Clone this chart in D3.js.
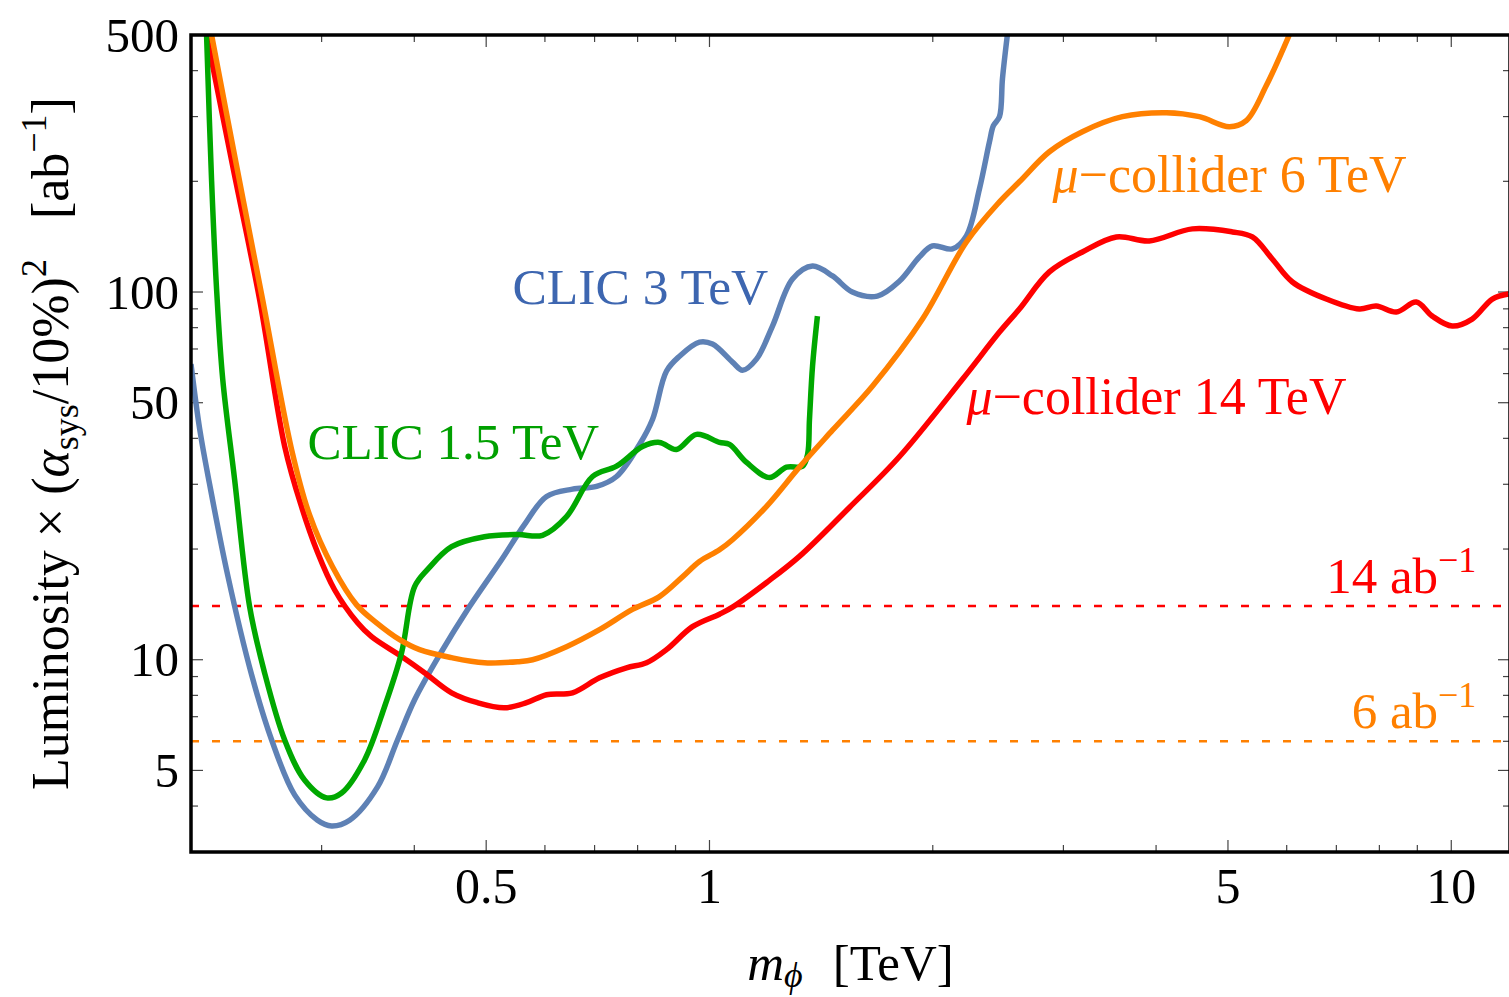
<!DOCTYPE html>
<html lang="en">
<head>
  <meta charset="UTF-8">
  <title>Luminosity reach</title>
  <script src="https://d3js.org/d3.v7.min.js"></script>
  <style>
    body { margin: 0; background: #fff; }
    text { font-family: "Liberation Serif", "Times New Roman", serif; }
    .curve { fill: none; stroke-width: 5.5px; stroke-linejoin: round; }
  </style>
</head>
<body>
  <svg id="chart" width="1509" height="997"></svg>

  <script>
    // curves: [m_phi in TeV, luminosity in ab^-1]
    const clic3 = [
      [0.2, 63.7], [0.2055, 42.3], [0.2119, 30.0], [0.2241, 17.0], [0.2414, 9.10],
      [0.2569, 6.05], [0.2759, 4.29], [0.2962, 3.66], [0.3094, 3.53], [0.3272, 3.66],
      [0.3569, 4.51], [0.3797, 6.05], [0.4004, 7.78], [0.4326, 10.3], [0.472, 13.7],
      [0.5244, 18.7], [0.563, 23.3], [0.6031, 27.8], [0.6536, 29.1], [0.7043, 29.6],
      [0.7494, 31.5], [0.8048, 38.5], [0.8381, 45.1], [0.8749, 60.9], [0.9111, 66.9],
      [0.9694, 73.1], [1.0093, 72.2], [1.074, 64.5], [1.108, 61.3], [1.157, 65.7],
      [1.216, 80.8], [1.294, 108.5], [1.377, 117.7], [1.465, 110.6], [1.558, 100],
      [1.684, 97.5], [1.804, 107.1], [1.919, 124.6], [1.998, 133.5], [2.126, 131],
      [2.22, 142.1], [2.312, 190.9], [2.385, 256.3], [2.414, 283.4], [2.46, 299.8],
      [2.483, 380.5], [2.521, 500]
    ];

    const clic15 = [
      [0.2099, 500], [0.2132, 200.7], [0.2166, 100.6], [0.2207, 57.9], [0.229, 30.9],
      [0.2399, 13.95], [0.2513, 9.22], [0.2675, 6.05], [0.2845, 4.71], [0.3047, 4.21],
      [0.3192, 4.34], [0.3428, 5.34], [0.3647, 7.45], [0.3845, 10.45], [0.4004, 15.8],
      [0.4169, 17.6], [0.4491, 20.3], [0.4973, 21.6], [0.5512, 21.9], [0.5955, 21.8],
      [0.6416, 24.5], [0.6956, 31.5], [0.7494, 33.6], [0.8124, 38.0], [0.8562, 39.0],
      [0.9026, 37.3], [0.9605, 41.0], [1.0316, 39.0], [1.064, 38.5], [1.122, 34.4],
      [1.205, 31.3], [1.27, 33.4], [1.335, 33.6], [1.356, 36.2], [1.364, 45.1],
      [1.377, 62.9], [1.398, 86.0]
    ];

    const mu14 = [
      [0.2099, 500], [0.2276, 220.4], [0.2474, 95.7], [0.2675, 38.05], [0.2818, 26.1],
      [0.2962, 19.6], [0.3123, 15.5], [0.3354, 12.6], [0.3503, 11.55], [0.3845, 10.2],
      [0.4129, 9.22], [0.4491, 8.13], [0.4868, 7.64], [0.5294, 7.40], [0.5667, 7.64],
      [0.6031, 8.03], [0.6536, 8.13], [0.7108, 8.93], [0.7729, 9.51], [0.8225, 9.81],
      [0.8749, 10.65], [0.9486, 12.3], [1.0316, 13.3], [1.074, 13.9], [1.193, 16.2],
      [1.322, 19.1], [1.544, 25.95], [1.804, 35.7], [2.193, 57.9], [2.46, 77.8],
      [2.617, 89.9], [2.872, 113.4], [3.182, 128.5], [3.536, 141.2], [3.917, 137.7],
      [4.477, 148.5], [5.069, 145.7], [5.393, 141.2], [5.737, 123], [6.107, 106.5],
      [6.785, 95.7], [7.516, 89.9], [7.923, 91.6], [8.433, 88.2], [8.971, 93.9],
      [9.428, 86.0], [10.03, 80.8], [10.67, 84.4], [11.36, 95.7], [11.94, 98.8]
    ];

    const mu6 = [
      [0.2132, 500], [0.2304, 220.4], [0.2497, 95.7], [0.2733, 37.3], [0.2889, 24.8],
      [0.3103, 17.9], [0.3344, 14.1], [0.3558, 12.6], [0.3822, 11.34], [0.4066, 10.65],
      [0.4491, 10.13], [0.4973, 9.81], [0.5512, 9.88], [0.5775, 10.0], [0.6416, 10.85],
      [0.7108, 12.07], [0.7873, 13.7], [0.8562, 14.85], [0.9196, 16.8], [0.9694, 18.5],
      [1.0316, 19.9], [1.074, 21.2], [1.193, 26.1], [1.322, 33.4], [1.465, 42.1],
      [1.658, 55.4], [1.937, 84.4], [2.22, 136.8], [2.46, 175.9], [2.617, 199.4],
      [2.872, 240.7], [3.182, 272.9], [3.603, 299.8], [4.13, 307.4], [4.575, 299.8],
      [5.022, 281.6], [5.292, 292.4], [5.632, 364.2], [6.048, 500]
    ];

    // reference luminosities (dashed lines)
    const refLumi = [14, 6];

    const xMajor = [0.5, 1, 5, 10];
    const xMinor = [0.3, 0.4, 0.6, 0.7, 0.8, 0.9, 2, 3, 4, 6, 7, 8, 9];
    const yMajor = [5, 10, 50, 100, 500];
    const yMinor = [4, 6, 7, 8, 9, 20, 30, 40, 60, 70, 80, 90, 200, 300, 400];

    const width = 1509;
    const height = 997;
    const margin = { top: 35, right: -1, bottom: 145, left: 191 };

    const svg = d3.select("#chart");

    const x = d3.scaleLog()
      .domain([0.2, 12])
      .range([margin.left, width - margin.right]);

    const y = d3.scaleLog()
      .domain([3, 500])
      .range([height - margin.bottom, margin.top]);

    const x0 = x.range()[0], x1 = x.range()[1];
    const y0 = y.range()[0], y1 = y.range()[1];

    svg.append("clipPath").attr("id", "plotClip")
      .append("rect")
      .attr("x", x0).attr("y", y1)
      .attr("width", x1 - x0).attr("height", y0 - y1);

    // ticks on all four sides, pointing inwards
    const tickG = svg.append("g").attr("stroke", "#444").attr("stroke-width", 1.2);
    function xTicks(vals, len) {
      vals.forEach(v => {
        tickG.append("line").attr("x1", x(v)).attr("x2", x(v)).attr("y1", y0).attr("y2", y0 - len);
        tickG.append("line").attr("x1", x(v)).attr("x2", x(v)).attr("y1", y1).attr("y2", y1 + len);
      });
    }
    function yTicks(vals, len) {
      vals.forEach(v => {
        tickG.append("line").attr("y1", y(v)).attr("y2", y(v)).attr("x1", x0).attr("x2", x0 + len);
        tickG.append("line").attr("y1", y(v)).attr("y2", y(v)).attr("x1", x1).attr("x2", x1 - len);
      });
    }
    xTicks(xMajor, 12); xTicks(xMinor, 7);
    yTicks(yMajor, 12); yTicks(yMinor, 7);

    // tick labels
    svg.append("g").selectAll("text").data(xMajor).join("text")
      .attr("x", d => x(d)).attr("y", 903)
      .attr("text-anchor", "middle").attr("font-size", 50)
      .text(d => d);

    svg.append("g").selectAll("text").data(yMajor).join("text")
      .attr("x", 179).attr("y", d => y(d)).attr("dy", "0.34em")
      .attr("text-anchor", "end").attr("font-size", 49)
      .text(d => d);

    // dashed reference lines
    const refColors = ["#ff0000", "#ff8000"];
    svg.append("g").selectAll("line").data(refLumi).join("line")
      .attr("x1", x0).attr("x2", x1)
      .attr("y1", d => y(d)).attr("y2", d => y(d))
      .attr("stroke", (d, i) => refColors[i])
      .attr("stroke-width", 2.5)
      .attr("stroke-dasharray", "8 13");

    // curves
    const line = d3.line()
      .x(d => x(d[0]))
      .y(d => y(d[1]))
      .curve(d3.curveCatmullRom.alpha(0.5));

    const series = [
      { data: clic3, color: "#5e81b5" },
      { data: mu14, color: "#ff0000" },
      { data: clic15, color: "#00a800" },
      { data: mu6, color: "#ff8000" }
    ];
    const curves = svg.append("g").attr("clip-path", "url(#plotClip)");
    series.forEach(s => {
      curves.append("path")
        .datum(s.data)
        .attr("class", "curve")
        .attr("stroke", s.color)
        .attr("d", line);
    });

    // frame
    svg.append("rect")
      .attr("x", x0).attr("y", y1)
      .attr("width", x1 - x0).attr("height", y0 - y1)
      .attr("fill", "none").attr("stroke", "#000").attr("stroke-width", 3.5);

    // curve labels, anchored in data coordinates
    function label(m, v, color, size, anchor) {
      return svg.append("text")
        .attr("x", x(m)).attr("y", y(v))
        .attr("fill", color).attr("font-size", size)
        .attr("text-anchor", anchor || "start");
    }
    label(0.5426, 92.7, "#3d66b0", 51.5).text("CLIC 3 TeV");
    label(0.2872, 35.1, "#00a000", 51).text("CLIC 1.5 TeV");

    const l6 = label(2.90, 187.3, "#ff8000", 52);
    l6.append("tspan").attr("font-style", "italic").text("μ");
    l6.append("tspan").text("−collider 6 TeV");

    const l14 = label(2.22, 46.5, "#ff0000", 52);
    l14.append("tspan").attr("font-style", "italic").text("μ");
    l14.append("tspan").text("−collider 14 TeV");

    function lumiLabel(v, num, color) {
      const t = label(10.81, v, color, 51, "end");
      t.append("tspan").text(num + " ab");
      t.append("tspan").attr("font-size", 36).attr("dy", -21).text("−1");
    }
    lumiLabel(15.2, "14", "#ff0000");
    lumiLabel(6.53, "6", "#ff8000");

    // axis titles
    const xt = svg.append("text")
      .attr("x", (x0 + x1) / 2).attr("y", 980)
      .attr("text-anchor", "middle").attr("font-size", 51);
    xt.append("tspan").attr("font-style", "italic").text("m");
    xt.append("tspan").attr("font-style", "italic").attr("font-size", 36).attr("dy", 7).text("ϕ");
    xt.append("tspan").attr("dy", -7).attr("dx", 30).text("[TeV]");

    const yt = svg.append("text")
      .attr("transform", `translate(68,${(y0 + y1) / 2}) rotate(-90)`)
      .attr("text-anchor", "middle").attr("font-size", 52);
    yt.append("tspan").text("Luminosity × (");
    yt.append("tspan").attr("font-style", "italic").text("α");
    yt.append("tspan").attr("font-size", 36).attr("dy", 10).text("sys");
    yt.append("tspan").attr("dy", -10).text("/10%)");
    yt.append("tspan").attr("font-size", 36).attr("dy", -22).text("2");
    yt.append("tspan").attr("dy", 22).attr("dx", 40).text("[ab");
    yt.append("tspan").attr("font-size", 36).attr("dy", -22).text("−1");
    yt.append("tspan").attr("dy", 22).text("]");
  </script>
</body>
</html>
